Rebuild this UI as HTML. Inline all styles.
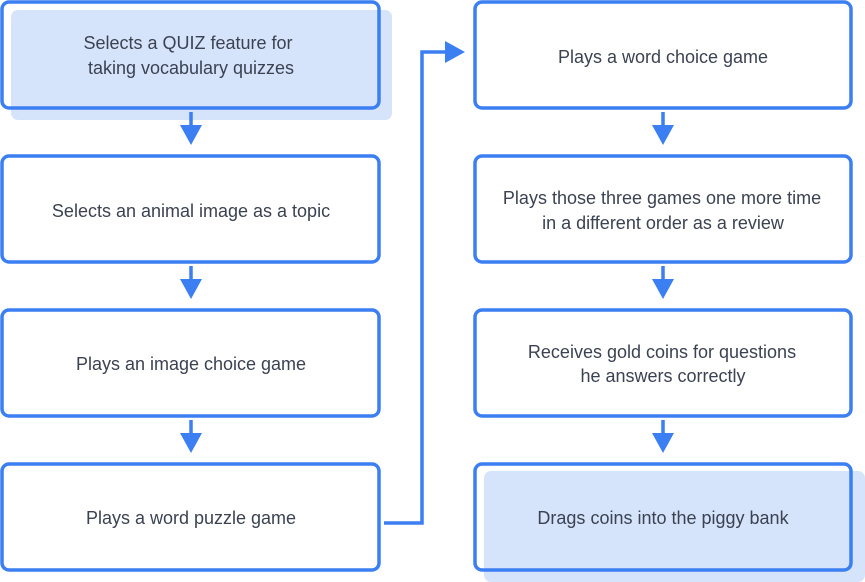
<!DOCTYPE html>
<html><head><style>
body{margin:0;width:865px;height:582px;background:#fff;overflow:hidden}
svg{display:block}
text{font-family:"Liberation Sans",sans-serif;font-size:18px;fill:#3b4252}
</style></head><body>
<svg width="865" height="582" viewBox="0 0 865 582">
<g fill="#d6e4fb">
<rect x="11" y="10" width="381" height="110" rx="7"/>
<rect x="484" y="471" width="381" height="111" rx="7"/>
</g>
<g fill="none" stroke="#3b7ff2" stroke-width="3.5">
<rect x="2" y="2" width="377" height="106" rx="7"/>
<rect x="2" y="156" width="377" height="106" rx="7"/>
<rect x="2" y="310" width="377" height="106" rx="7"/>
<rect x="2" y="464" width="377" height="106" rx="7"/>
<rect x="475" y="2" width="376" height="106" rx="7"/>
<rect x="475" y="156" width="376" height="106" rx="7"/>
<rect x="475" y="310" width="376" height="106" rx="7"/>
<rect x="475" y="464" width="376" height="106" rx="7"/>
<path d="M191 112V128M191 266V282M191 420V436M663 112V128M663 266V282M663 420V436"/>
<path d="M384 523H422V52H447"/>
</g>
<g fill="#3b7ff2">
<path d="M180 125H202L191 145Z"/><path d="M180 279H202L191 299Z"/><path d="M180 433H202L191 453Z"/>
<path d="M652 125H674L663 145Z"/><path d="M652 279H674L663 299Z"/><path d="M652 433H674L663 453Z"/>
<path d="M445 41V63L465 52Z"/>
</g>
<g text-anchor="middle">
<text x="188" y="49">Selects a QUIZ feature for</text>
<text x="191" y="74">taking vocabulary quizzes</text>
<text x="191" y="217">Selects an animal image as a topic</text>
<text x="191" y="370">Plays an image choice game</text>
<text x="191" y="524">Plays a word puzzle game</text>
<text x="663" y="63">Plays a word choice game</text>
<text x="662" y="204">Plays those three games one more time</text>
<text x="663" y="229">in a different order as a review</text>
<text x="662" y="358">Receives gold coins for questions</text>
<text x="663" y="382">he answers correctly</text>
<text x="663" y="524">Drags coins into the piggy bank</text>
</g>
</svg>
</body></html>
